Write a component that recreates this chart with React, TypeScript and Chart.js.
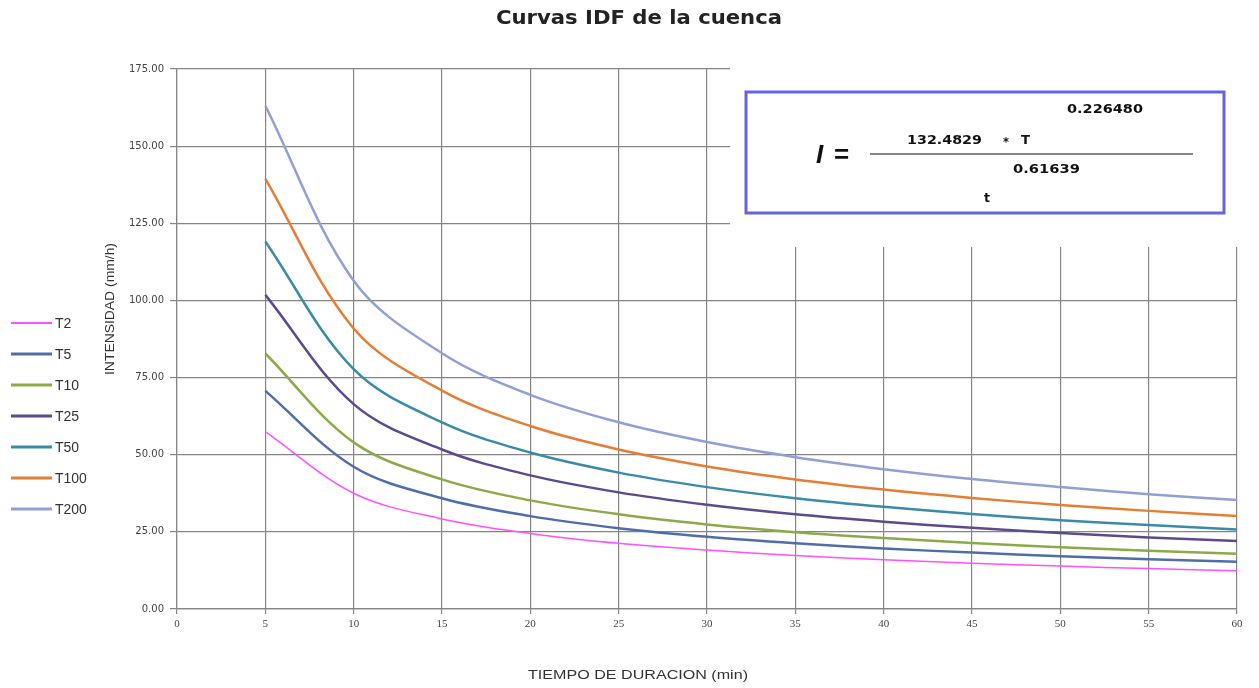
import React, { useEffect, useRef } from "react";
import { Chart, registerables } from "chart.js";

Chart.register(...registerables);

const durations = [5, 10, 15, 20, 25, 30, 35, 40, 45, 50, 55, 60];
const seriesNames = ["T2", "T5", "T10", "T25", "T50", "T100", "T200"];
const t2 = [57.5, 37.5, 29.2, 24.5, 21.3, 19.1, 17.3, 16.0, 14.8, 13.9, 13.1, 12.4];
const t5 = [70.7, 46.1, 35.9, 30.1, 26.2, 23.4, 21.3, 19.6, 18.3, 17.1, 16.1, 15.3];
const t10 = [82.8, 54.0, 42.0, 35.2, 30.7, 27.4, 24.9, 23.0, 21.4, 20.0, 18.9, 17.9];
const t25 = [101.8, 66.4, 51.7, 43.3, 37.8, 33.8, 30.7, 28.3, 26.3, 24.6, 23.2, 22.0];
const t50 = [119.1, 77.7, 60.5, 50.7, 44.2, 39.5, 35.9, 33.1, 30.8, 28.8, 27.2, 25.8];
const t100 = [139.4, 90.9, 70.8, 59.3, 51.7, 46.2, 42.0, 38.7, 36.0, 33.7, 31.8, 30.1];
const t200 = [163.1, 106.4, 82.9, 69.4, 60.5, 54.1, 49.2, 45.3, 42.1, 39.5, 37.2, 35.3];
const seriesValues = [t2, t5, t10, t25, t50, t100, t200];
const seriesColors = ["#ff50ff", "#4f6ea8", "#8caa48", "#5c4a8c", "#3a8ca6", "#e57e35", "#8fa0d4"];
const seriesWidths = [1.5, 2.5, 2.5, 2.5, 2.5, 2.5, 2.5];

const chartTitle = "Curvas IDF de la cuenca";
const xTitle = "TIEMPO DE DURACION (min)";
const yTitle = "INTENSIDAD (mm/h)";
const formulaCoef = "132.4829";
const formulaExpT = "0.226480";
const formulaExpt = "0.61639";

function drawFit(ctx: any, text: string, left: number, y: number, font: string, width: number) {
  ctx.save();
  ctx.font = font;
  ctx.textAlign = "left";
  ctx.textBaseline = "middle";
  const w = ctx.measureText(text).width;
  ctx.translate(left, y);
  ctx.scale(width / w, 1);
  ctx.fillText(text, 0, 0);
  ctx.restore();
}

const overlayPlugin = {
  id: "overlay",
  beforeDatasetsDraw(chart: any) {
    const ctx = chart.ctx;
    ctx.save();
    ctx.fillStyle = "#ffffff";
    ctx.fillRect(730, 60, 515, 187);
    ctx.restore();
  },
  afterDraw(chart: any) {
    const ctx = chart.ctx;
    ctx.save();
    // title
    ctx.fillStyle = "#222";
    drawFit(ctx, chartTitle, 496, 19, "bold 20px 'DejaVu Sans', sans-serif", 286);
    // x title
    ctx.fillStyle = "#333";
    drawFit(ctx, xTitle, 528, 676, "12px 'Liberation Sans', Arial, sans-serif", 220);
    // y title
    ctx.save();
    ctx.translate(111, 375);
    ctx.rotate(-Math.PI / 2);
    drawFit(ctx, yTitle, 0, 0, "12px 'Liberation Sans', Arial, sans-serif", 132);
    ctx.restore();
    // legend
    ctx.textAlign = "left";
    ctx.textBaseline = "middle";
    ctx.font = "14px 'Liberation Sans', Arial, sans-serif";
    seriesNames.forEach((name, i) => {
      const y = 323 + i * 31;
      ctx.strokeStyle = seriesColors[i];
      ctx.lineWidth = seriesWidths[i] + 0.5;
      ctx.beginPath();
      ctx.moveTo(11, y);
      ctx.lineTo(52, y);
      ctx.stroke();
      ctx.fillStyle = "#333";
      ctx.fillText(name, 55, y + 1);
    });
    // formula box
    ctx.strokeStyle = "#6464dc";
    ctx.lineWidth = 3;
    ctx.strokeRect(746, 92, 478, 121);
    ctx.fillStyle = "#111";
    ctx.font = "italic bold 26px 'Liberation Sans', Arial, sans-serif";
    ctx.fillText("I", 816, 156);
    ctx.font = "bold 26px 'Liberation Sans', Arial, sans-serif";
    ctx.fillText("=", 834, 156);
    const nf = "bold 12px 'DejaVu Sans', sans-serif";
    drawFit(ctx, formulaCoef, 907, 141, nf, 75);
    drawFit(ctx, "*", 1003, 143, nf, 6);
    drawFit(ctx, "T", 1021, 141, nf, 9);
    drawFit(ctx, formulaExpT, 1067, 110, nf, 76);
    drawFit(ctx, formulaExpt, 1013, 170, nf, 67);
    drawFit(ctx, "t", 984, 199, nf, 6);
    ctx.strokeStyle = "#111";
    ctx.lineWidth = 1.2;
    ctx.beginPath();
    ctx.moveTo(870, 154);
    ctx.lineTo(1193, 154);
    ctx.stroke();
    ctx.restore();
  },
};

export default function App() {
  const canvasRef = useRef<HTMLCanvasElement | null>(null);

  useEffect(() => {
    document.body.style.margin = "0";
    const canvas = canvasRef.current;
    if (!canvas) return;
    const datasets = seriesNames.map((name, i) => ({
      label: name,
      data: durations.map((d, j) => ({ x: d, y: seriesValues[i][j] })),
      borderColor: seriesColors[i],
      backgroundColor: seriesColors[i],
      borderWidth: seriesWidths[i],
      pointRadius: 0,
      tension: 0.35,
      fill: false,
    }));
    const chart = new Chart(canvas, {
      type: "line",
      data: { datasets },
      options: {
        animation: false,
        responsive: false,
        layout: { padding: { left: 0, right: 22, top: 69, bottom: 0 } },
        plugins: { legend: { display: false }, title: { display: false }, tooltip: { enabled: false } },
        scales: {
          x: {
            type: "linear",
            min: 0,
            max: 60,
            ticks: {
              stepSize: 5,
              color: "#444",
              font: { family: "'Liberation Serif', serif", size: 11 },
              padding: 4,
              maxRotation: 0,
            },
            grid: { color: "#858585", lineWidth: 1.2, tickLength: 5 },
            border: { color: "#858585", width: 1.2 },
            afterFit: (scale: any) => {
              scale.height = 79;
            },
          },
          y: {
            min: 0,
            max: 175,
            ticks: {
              stepSize: 25,
              color: "#444",
              font: { family: "'DejaVu Sans', sans-serif", size: 10 },
              padding: 6,
              callback: (v: any) => Number(v).toFixed(2),
            },
            grid: { color: "#858585", lineWidth: 1.2, tickLength: 7 },
            border: { color: "#858585", width: 1.2 },
            afterFit: (scale: any) => {
              scale.width = 177;
            },
          },
        },
      },
      plugins: [overlayPlugin],
    });
    return () => chart.destroy();
  }, []);

  return <canvas ref={canvasRef} width={1259} height={688} style={{ display: "block" }} />;
}
